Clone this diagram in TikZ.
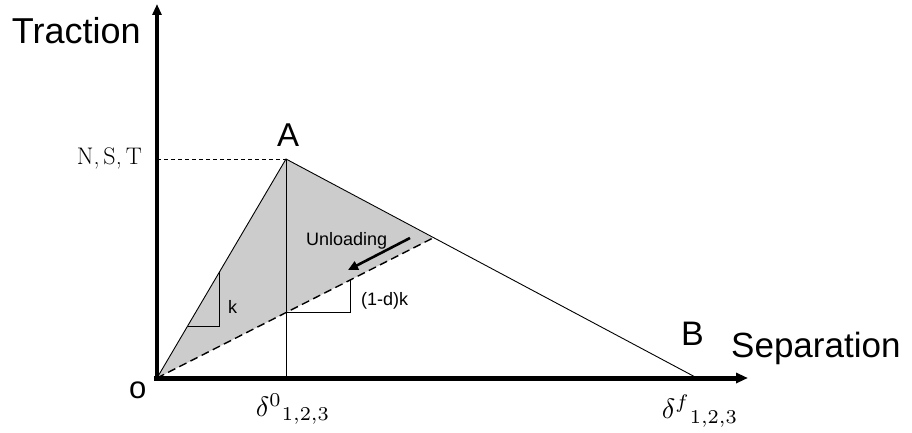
\documentclass[tikz,border=0pt]{standalone}
\usepackage{fontspec}
\newfontfamily\arialf{Liberation Sans}
\usetikzlibrary{arrows.meta}
\begin{document}
\begin{tikzpicture}[x=1pt,y=-1pt,
  lbl/.style={inner sep=0pt, anchor=base west},
  sans/.style={font={\arialf\fontsize{#1}{#1}\selectfont}},
  thinline/.style={line width=0.9pt},
  axis/.style={line width=#1, line cap=butt},
  tipv/.style={-{Triangle[length=11pt,width=9pt]}},
  fillarea/.style={fill=black!20},
  longdash/.style={line width=1.4pt, dash pattern=on 8pt off 4.5pt},
  shortdash/.style={line width=0.9pt, dash pattern=on 4pt off 3pt},
  mathlbl/.style={inner sep=0pt, scale=2.8}]
\useasboundingbox (0,0) rectangle (912,433);
% key points
\coordinate (O) at (157,378);
\coordinate (A) at (286,159);
\coordinate (B) at (697,378);
\coordinate (P) at (433,238);
\coordinate (Afoot) at (286,378);
\coordinate (Ay) at (157,159);
\coordinate (xstart) at (154,378);
\coordinate (xend) at (748,378);
\coordinate (yend) at (157,4);
% slope triangles
\coordinate (k1) at (187.6,326);
\coordinate (k2) at (219.3,326);
\coordinate (k3) at (219.3,272);
\coordinate (d1) at (286,312.6);
\coordinate (d2) at (350.7,312.6);
\coordinate (d3) at (350.7,279.8);
% unloading arrow
\coordinate (u1) at (410,238);
\coordinate (u2) at (348,270);

\fill[fillarea] (O) -- (A) -- (P) -- cycle;
\draw[thinline] (O) -- (A) -- (B);
\draw[thinline] (A) -- (Afoot);
\draw[shortdash] (Ay) -- (A);
\draw[longdash] (O) -- (P);
\draw[thinline] (k1) -- (k2) -- (k3);
\draw[thinline] (d1) -- (d2) -- (d3);
\draw[line width=2.6pt, -{Triangle[length=10pt,width=9pt]}] (u1) -- (u2);

% axes
\draw[axis=3.5pt, tipv] (O) -- (yend);
\draw[axis=5pt, -{Triangle[length=12pt,width=10pt]}] (xstart) -- (xend);

% labels
\node[lbl, sans=36] (trac) at (11.7,43.3) {Traction};
\node[lbl, sans=35] (sep) at (731,357) {Separation};
\node[lbl, sans=33] (lA) at (277,146.7) {A};
\node[lbl, sans=34] (lB) at (681,345) {B};
\node[lbl, sans=31] (lO) at (129,398) {o};
\node[lbl, sans=18] (unl) at (306,245) {Unloading};
\node[lbl, sans=18] (kk) at (228,313) {k};
\node[lbl, sans=18] (dk) at (361,305) {(1-d)k};
\node[inner sep=0pt, anchor=base east, font={\fontsize{24}{26}\selectfont}] (nst) at (142,164) {N,\,S,\,T};
\node[mathlbl] (d0) at (293,409) {$\delta^{0}{}_{1{,}2{,}3}$};
\node[mathlbl] (df) at (700,411) {$\delta^{f}{}_{1{,}2{,}3}$};
\end{tikzpicture}
\end{document}
